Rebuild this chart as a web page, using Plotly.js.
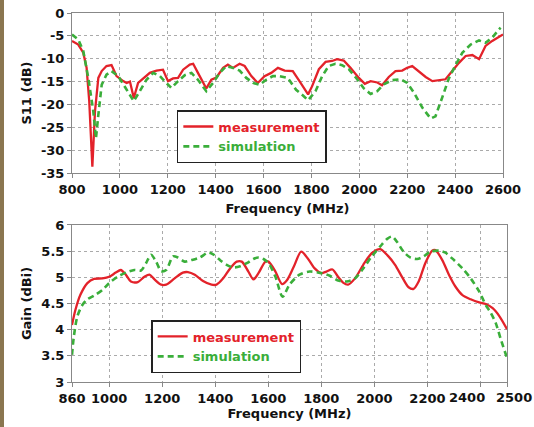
<!DOCTYPE html>
<html>
<head>
<meta charset="utf-8">
<script src="https://cdn.plot.ly/plotly-3.0.1.min.js"></script>
<style>html,body{margin:0;padding:0;background:#fff;}#chart{width:534px;height:427px;}</style>
</head>
<body>
<div id="chart"></div>
<script>
// ---- S11 chart data ----
const s11MeasFreq = [800,826,847,861,872,885,896,910,924,944,965,986,1014,1028,1042,1058,1076,1097,1125,1153,1180,1201,1222,1243,1264,1292,1306,1326,1361,1382,1403,1431,1451,1472,1500,1521,1549,1576,1604,1632,1660,1688,1722,1750,1786,1803,1831,1859,1886,1907,1935,1963,1998,2023,2047,2075,2095,2123,2151,2179,2200,2221,2249,2277,2305,2332,2360,2388,2416,2444,2472,2500,2527,2555,2583,2600];
const s11Meas = [-6.1,-6.9,-8.7,-12,-19.3,-33.6,-21.5,-14.2,-12.7,-11.6,-11.4,-13.8,-14.9,-15.3,-15,-18.6,-15.3,-14.3,-13.1,-12.6,-12.4,-14.9,-14.3,-14.2,-12.4,-11.3,-11.1,-13.1,-16.5,-14.6,-14.1,-12,-11.3,-12,-11.1,-11.6,-13.8,-15.3,-13.8,-13.1,-12,-12.6,-12.7,-14.9,-17.8,-16,-12.3,-10.7,-10.5,-10.1,-10.4,-12,-14.2,-15.5,-14.9,-15.2,-15.8,-14,-12.7,-12.6,-12,-11.6,-12.8,-14,-14.9,-14.7,-14.5,-12.7,-10.9,-9.4,-9.2,-10.1,-7.2,-6.1,-5.3,-4.7];
const s11SimFreq = [800,826,847,868,889,900,910,924,944,965,993,1028,1058,1083,1111,1139,1167,1194,1215,1243,1271,1299,1326,1361,1389,1417,1444,1472,1500,1528,1556,1583,1611,1639,1667,1701,1736,1768,1786,1817,1845,1872,1900,1928,1956,1991,2019,2047,2075,2102,2137,2172,2200,2228,2263,2298,2318,2346,2374,2402,2430,2465,2500,2527,2555,2583,2590];
const s11Sim = [-4.7,-5.8,-8.3,-14.2,-21.5,-27.4,-22.3,-15.7,-13.5,-12.7,-13.8,-16.8,-19.3,-17.1,-14.6,-13.1,-13.8,-15.3,-16.4,-14.9,-13.6,-13.1,-14.6,-17.1,-15.3,-13.1,-11.6,-12,-12.6,-14.2,-15.3,-15.7,-14.6,-13.8,-13.8,-14.2,-16.8,-18.2,-19.1,-17.1,-13.8,-11.6,-11.1,-11.4,-12.3,-14.5,-16.5,-17.7,-17.1,-15.6,-14.7,-14.5,-15.3,-17.4,-20.7,-23.1,-22.6,-18.5,-14.3,-11.4,-8.7,-6.9,-6,-6.5,-5.4,-3.6,-3.2];

// ---- Gain chart data ----
const gainMeasFreq = [860,873,892,918,943,975,1000,1025,1044,1063,1082,1108,1133,1152,1171,1196,1215,1247,1278,1297,1323,1354,1386,1405,1430,1456,1481,1500,1525,1544,1563,1589,1601,1627,1652,1671,1696,1724,1749,1775,1800,1819,1842,1863,1882,1901,1927,1958,1990,2022,2053,2078,2104,2129,2148,2167,2192,2218,2230,2256,2281,2306,2332,2363,2395,2420,2446,2471,2500];
const gainMeas = [4.09,4.38,4.67,4.89,4.97,4.98,5.01,5.09,5.14,5.05,4.92,4.91,5.01,5.05,4.96,4.86,4.86,4.98,5.09,5.10,5.05,4.93,4.86,4.86,4.98,5.17,5.30,5.30,5.11,4.96,5.08,5.30,5.30,5.11,4.87,4.95,5.20,5.49,5.36,5.17,5.08,5.11,5.15,5.01,4.90,4.86,4.98,5.24,5.46,5.54,5.40,5.24,5.01,4.81,4.78,4.92,5.27,5.51,5.52,5.33,5.05,4.82,4.66,4.58,4.52,4.49,4.41,4.26,4.01];
const gainSimFreq = [860,867,880,899,918,943,975,1000,1032,1063,1095,1120,1139,1158,1177,1196,1215,1241,1259,1285,1310,1342,1373,1392,1418,1443,1468,1494,1519,1544,1563,1582,1601,1627,1654,1680,1718,1756,1800,1832,1863,1895,1927,1958,1990,2022,2047,2066,2085,2110,2135,2161,2186,2211,2243,2268,2300,2332,2363,2395,2420,2439,2458,2477,2500];
const gainSim = [3.52,3.87,4.25,4.47,4.58,4.65,4.76,4.89,5.01,5.09,5.14,5.13,5.27,5.43,5.30,5.12,5.14,5.40,5.38,5.30,5.33,5.38,5.47,5.44,5.33,5.24,5.19,5.21,5.27,5.35,5.38,5.35,5.27,5.01,4.63,4.86,5.05,5.11,5.08,5.03,4.94,4.92,4.98,5.17,5.40,5.59,5.73,5.78,5.68,5.49,5.38,5.35,5.40,5.49,5.51,5.47,5.33,5.17,4.98,4.73,4.47,4.32,4.12,3.81,3.46];

// ---- ticks / labels ----
const s11XTicks = [800,1000,1200,1400,1600,1800,2000,2200,2400,2600];
const s11YTicks = [0,-5,-10,-15,-20,-25,-30,-35];
const gainXTicks = [860,1000,1200,1400,1600,1800,2000,2200,2400,2500];
const gainYTicks = [3,3.5,4,4.5,5,5.5,6];
const gainCrowdedTicks = [2400,2500];   // labels drawn squeezed, as in the original
const seriesNames = ['measurement','simulation'];

const RED = '#e3222a', GREEN = '#3aae3a';
const tickFont = {family:'DejaVu Sans', size:13, weight:'bold', color:'#111'};
const titleFont = {family:'DejaVu Sans', size:13, weight:'bold', color:'#111'};
const legFont = {family:'DejaVu Sans', size:13, weight:'bold'};

const traces = [
  {x:s11MeasFreq, y:s11Meas, xaxis:'x', yaxis:'y', mode:'lines', line:{color:RED, width:2.3},
   name:'<span style="color:'+RED+'">'+seriesNames[0]+'</span>', legend:'legend'},
  {x:s11SimFreq, y:s11Sim, xaxis:'x', yaxis:'y', mode:'lines', line:{color:GREEN, width:2.6, dash:'6px,4px'},
   name:'<span style="color:'+GREEN+'">'+seriesNames[1]+'</span>', legend:'legend'},
  {x:gainMeasFreq, y:gainMeas, xaxis:'x2', yaxis:'y2', mode:'lines', line:{color:RED, width:2.3, shape:'spline', smoothing:0.8},
   name:'<span style="color:'+RED+'">'+seriesNames[0]+'</span>', legend:'legend2'},
  {x:gainSimFreq, y:gainSim, xaxis:'x2', yaxis:'y2', mode:'lines', line:{color:GREEN, width:2.6, dash:'6px,4px', shape:'spline', smoothing:0.8},
   name:'<span style="color:'+GREEN+'">'+seriesNames[1]+'</span>', legend:'legend2'}
];

function xax(domain, range, ticks, anchor, hidden, standoff) {
  return {domain:domain, range:range, tickmode:'array', tickvals:ticks,
    ticktext:ticks.map(v => hidden.includes(v) ? '' : String(v)),
    tickangle:0, tickfont:tickFont, ticks:'outside', ticklen:4, tickcolor:'#888',
    showline:true, linecolor:'#888', linewidth:1, mirror:true,
    showgrid:true, gridcolor:'#aaa', griddash:'dot', gridwidth:1, zeroline:false, anchor:anchor,
    title:{text:'Frequency (MHz)', font:titleFont, standoff:standoff}};
}
function yax(domain, range, ticks, title, anchor) {
  return {domain:domain, range:range, tickmode:'array', tickvals:ticks, ticktext:ticks.map(String),
    tickfont:tickFont, ticks:'outside', ticklen:4, tickcolor:'#888',
    showline:true, linecolor:'#888', linewidth:1, mirror:true,
    showgrid:true, gridcolor:'#aaa', griddash:'dot', gridwidth:1, zeroline:false, anchor:anchor,
    title:{text:title, font:titleFont, standoff:6}};
}

const shifts = {2400:-13, 2500:7};
const annotations = gainCrowdedTicks.map(v => ({
  x:v, xref:'x2', y:0, yref:'paper', yanchor:'top', xanchor:'center', yshift:-6, xshift:shifts[v],
  text:String(v), showarrow:false, font:tickFont
}));

const layout = {
  width:534, height:427,
  margin:{l:72, r:27, t:13, b:45},
  paper_bgcolor:'#fff', plot_bgcolor:'#fff',
  showlegend:true,
  xaxis: xax([0, 0.9908], [800,2600], s11XTicks, 'y', [], 8),
  yaxis: yax([0.5664, 1], [-35,0], s11YTicks, 'S11 (dB)', 'x'),
  xaxis2: xax([0, 1], [860,2500], gainXTicks, 'y2', gainCrowdedTicks, 4),
  yaxis2: yax([0, 0.4255], [3,6], gainYTicks, 'Gain (dBi)', 'x2'),
  legend: {x:0.241, y:0.737, xanchor:'left', yanchor:'top', bgcolor:'#fff', bordercolor:'#222', borderwidth:1.5,
    font:legFont, itemwidth:30, tracegroupgap:0},
  legend2: {x:0.182, y:0.168, xanchor:'left', yanchor:'top', bgcolor:'#fff', bordercolor:'#222', borderwidth:1.5,
    font:legFont, itemwidth:30, tracegroupgap:0},
  annotations: annotations,
  shapes:[{type:'rect', xref:'paper', yref:'paper', x0:-72/435, x1:-68/435, y0:-45/369, y1:382/369,
    fillcolor:'#8a7650', line:{width:0}, layer:'below'}]
};

Plotly.newPlot('chart', traces, layout, {staticPlot:true, displayModeBar:false});
</script>
</body>
</html>
